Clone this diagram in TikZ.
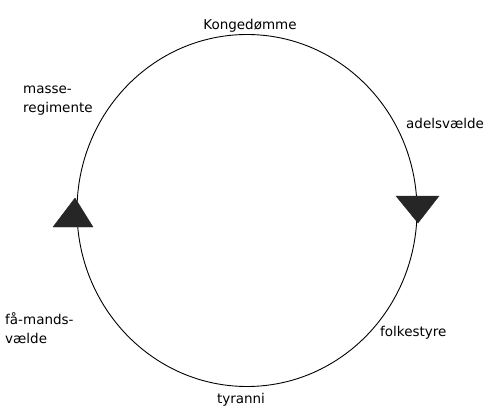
\documentclass[tikz,border=0pt]{standalone}
\usepackage{fontspec}
\setmainfont{DejaVu Sans}
\usepackage{tikz}
\usepackage{xcolor}

\begin{document}
\begin{tikzpicture}[x=1pt,y=-1pt,
  lbl/.style={inner sep=0pt,font=\fontsize{13.5}{19}\selectfont},
  lblleft/.style={lbl,anchor=west,align=left}]
\useasboundingbox (0,0) rectangle (497,409);
\coordinate (mid) at (247,210.5);
\draw[line width=0.9pt] (mid) ellipse [x radius=170pt, y radius=176pt];
\filldraw[color=black!85, draw] (53,227) -- (93,227) -- (75,198) -- cycle;
\filldraw[color=black!85, draw] (396,196) -- (439,196) -- (418,223) -- cycle;
\node[lbl] (konge) at (250,26) {Kongedømme};
\node[lbl,anchor=west] (adel) at (406,123) {adelsvælde};
\node[lbl,anchor=west] (folk) at (380,333) {folkestyre};
\node[lbl] (tyran) at (241,400) {tyranni};
\node[lblleft] (faa) at (5,328) {få-mands-\\vælde};
\node[lblleft] (masse) at (23,101) {masse-\\regimente};
\end{tikzpicture}
\end{document}
